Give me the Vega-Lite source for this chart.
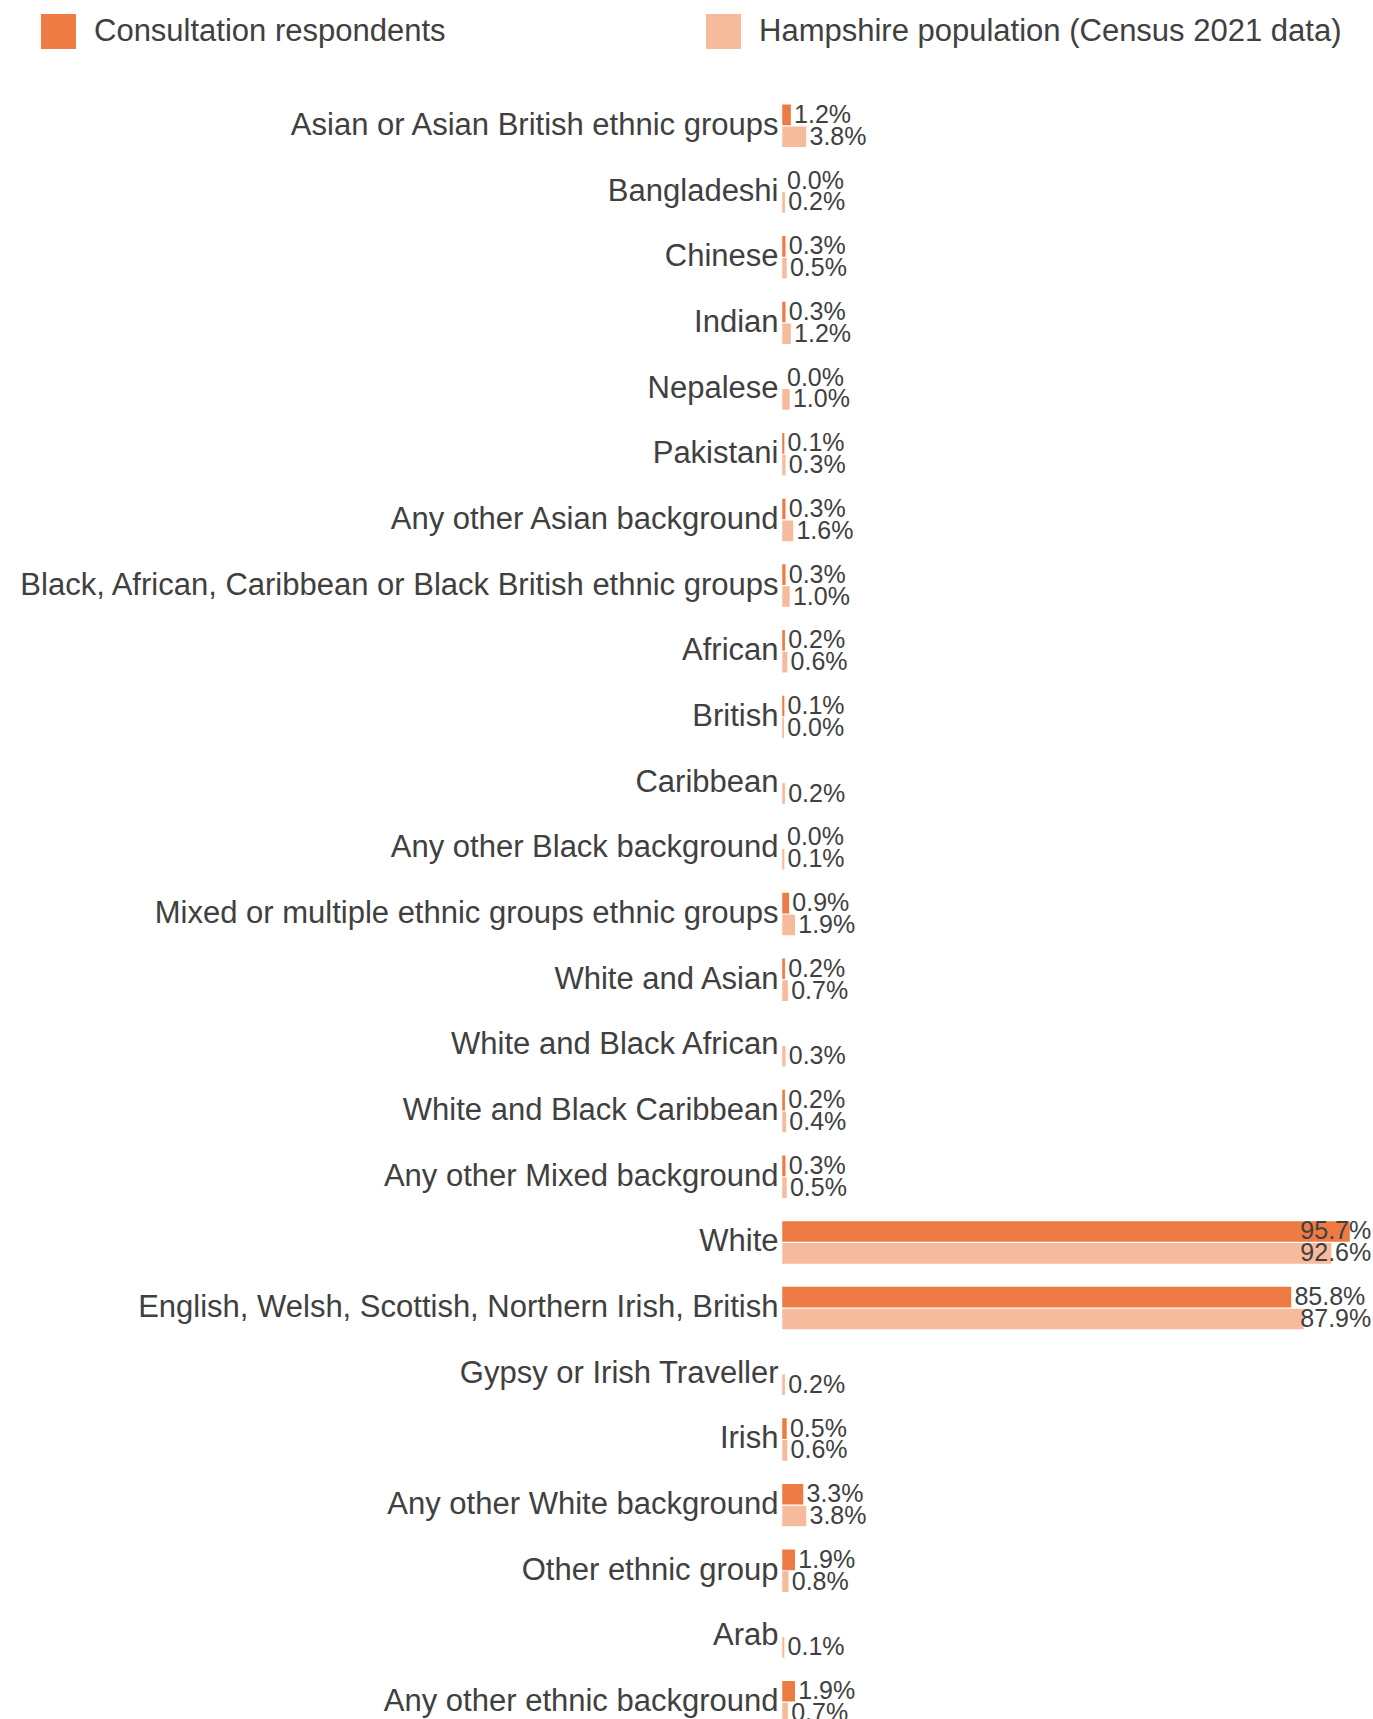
{
  "$schema": "https://vega.github.io/schema/vega-lite/v6.json",
  "padding": {"left": 18, "top": 14, "right": 0, "bottom": 0},
  "background": "white",
  "width": 566,
  "height": 1642,
  "config": {"view": {"stroke": null}},
  "data": {
    "values": [
      {"category": "Asian or Asian British ethnic groups", "series": "Consultation respondents", "value": 0.012},
      {"category": "Asian or Asian British ethnic groups", "series": "Hampshire population (Census 2021 data)", "value": 0.038},
      {"category": "Bangladeshi", "series": "Consultation respondents", "value": 0.0},
      {"category": "Bangladeshi", "series": "Hampshire population (Census 2021 data)", "value": 0.002},
      {"category": "Chinese", "series": "Consultation respondents", "value": 0.003},
      {"category": "Chinese", "series": "Hampshire population (Census 2021 data)", "value": 0.005},
      {"category": "Indian", "series": "Consultation respondents", "value": 0.003},
      {"category": "Indian", "series": "Hampshire population (Census 2021 data)", "value": 0.012},
      {"category": "Nepalese", "series": "Consultation respondents", "value": 0.0},
      {"category": "Nepalese", "series": "Hampshire population (Census 2021 data)", "value": 0.010},
      {"category": "Pakistani", "series": "Consultation respondents", "value": 0.001},
      {"category": "Pakistani", "series": "Hampshire population (Census 2021 data)", "value": 0.003},
      {"category": "Any other Asian background", "series": "Consultation respondents", "value": 0.003},
      {"category": "Any other Asian background", "series": "Hampshire population (Census 2021 data)", "value": 0.016},
      {"category": "Black, African, Caribbean or Black British ethnic groups", "series": "Consultation respondents", "value": 0.003},
      {"category": "Black, African, Caribbean or Black British ethnic groups", "series": "Hampshire population (Census 2021 data)", "value": 0.010},
      {"category": "African", "series": "Consultation respondents", "value": 0.002},
      {"category": "African", "series": "Hampshire population (Census 2021 data)", "value": 0.006},
      {"category": "British", "series": "Consultation respondents", "value": 0.001},
      {"category": "British", "series": "Hampshire population (Census 2021 data)", "value": 0.0004},
      {"category": "Caribbean", "series": "Hampshire population (Census 2021 data)", "value": 0.002},
      {"category": "Any other Black background", "series": "Consultation respondents", "value": 0.0},
      {"category": "Any other Black background", "series": "Hampshire population (Census 2021 data)", "value": 0.001},
      {"category": "Mixed or multiple ethnic groups ethnic groups", "series": "Consultation respondents", "value": 0.009},
      {"category": "Mixed or multiple ethnic groups ethnic groups", "series": "Hampshire population (Census 2021 data)", "value": 0.019},
      {"category": "White and Asian", "series": "Consultation respondents", "value": 0.002},
      {"category": "White and Asian", "series": "Hampshire population (Census 2021 data)", "value": 0.007},
      {"category": "White and Black African", "series": "Hampshire population (Census 2021 data)", "value": 0.003},
      {"category": "White and Black Caribbean", "series": "Consultation respondents", "value": 0.002},
      {"category": "White and Black Caribbean", "series": "Hampshire population (Census 2021 data)", "value": 0.004},
      {"category": "Any other Mixed background", "series": "Consultation respondents", "value": 0.003},
      {"category": "Any other Mixed background", "series": "Hampshire population (Census 2021 data)", "value": 0.005},
      {"category": "White", "series": "Consultation respondents", "value": 0.957},
      {"category": "White", "series": "Hampshire population (Census 2021 data)", "value": 0.926},
      {"category": "English, Welsh, Scottish, Northern Irish, British", "series": "Consultation respondents", "value": 0.858},
      {"category": "English, Welsh, Scottish, Northern Irish, British", "series": "Hampshire population (Census 2021 data)", "value": 0.879},
      {"category": "Gypsy or Irish Traveller", "series": "Hampshire population (Census 2021 data)", "value": 0.002},
      {"category": "Irish", "series": "Consultation respondents", "value": 0.005},
      {"category": "Irish", "series": "Hampshire population (Census 2021 data)", "value": 0.006},
      {"category": "Any other White background", "series": "Consultation respondents", "value": 0.033},
      {"category": "Any other White background", "series": "Hampshire population (Census 2021 data)", "value": 0.038},
      {"category": "Other ethnic group", "series": "Consultation respondents", "value": 0.019},
      {"category": "Other ethnic group", "series": "Hampshire population (Census 2021 data)", "value": 0.008},
      {"category": "Arab", "series": "Hampshire population (Census 2021 data)", "value": 0.001},
      {"category": "Any other ethnic background", "series": "Consultation respondents", "value": 0.019},
      {"category": "Any other ethnic background", "series": "Hampshire population (Census 2021 data)", "value": 0.007}
    ]
  },
  "transform": [{"calculate": "min(datum.value, 0.868)", "as": "labelPos"}],
  "encoding": {
    "y": {
      "field": "category", "type": "nominal", "sort": null,
      "scale": {"paddingInner": 0.376, "paddingOuter": 0.188},
      "axis": {"title": null, "domain": false, "ticks": false, "labelFontSize": 31, "labelColor": "#404040", "labelFont": "Liberation Sans", "labelPadding": 5, "labelLimit": 1000}
    },
    "yOffset": {
      "field": "series", "type": "nominal",
      "sort": ["Consultation respondents", "Hampshire population (Census 2021 data)"],
      "scale": {"paddingInner": 0.12}
    }
  },
  "layer": [
    {
      "mark": {"type": "bar"},
      "encoding": {
        "x": {"field": "value", "type": "quantitative", "scale": {"domain": [0, 0.957], "nice": false}, "axis": null},
        "color": {
          "field": "series", "type": "nominal",
          "scale": {"domain": ["Consultation respondents", "Hampshire population (Census 2021 data)"], "range": ["#EE7B43", "#F6BB9D"]},
          "legend": {"orient": "none", "legendX": -742, "legendY": -79, "direction": "horizontal", "columns": 2, "title": null, "symbolType": "square", "symbolSize": 1225, "symbolStrokeWidth": 0, "symbolOpacity": 1, "labelFontSize": 31, "labelFont": "Liberation Sans", "labelColor": "#404040", "labelOffset": 18, "columnPadding": 260, "labelLimit": 1000}
        },
        "stroke": {"field": "series", "type": "nominal", "scale": {"domain": ["Consultation respondents", "Hampshire population (Census 2021 data)"], "range": ["#EE7B43", "#F6BB9D"]}, "legend": null},
        "strokeWidth": {"condition": {"test": "datum.value > 0", "value": 1.5}, "value": 0}
      }
    },
    {
      "mark": {"type": "text", "align": "left", "baseline": "middle", "dx": 4, "fontSize": 25, "font": "Liberation Sans", "color": "#404040"},
      "encoding": {
        "x": {"field": "labelPos", "type": "quantitative"},
        "text": {"field": "value", "type": "quantitative", "format": ".1%"}
      }
    }
  ]
}
